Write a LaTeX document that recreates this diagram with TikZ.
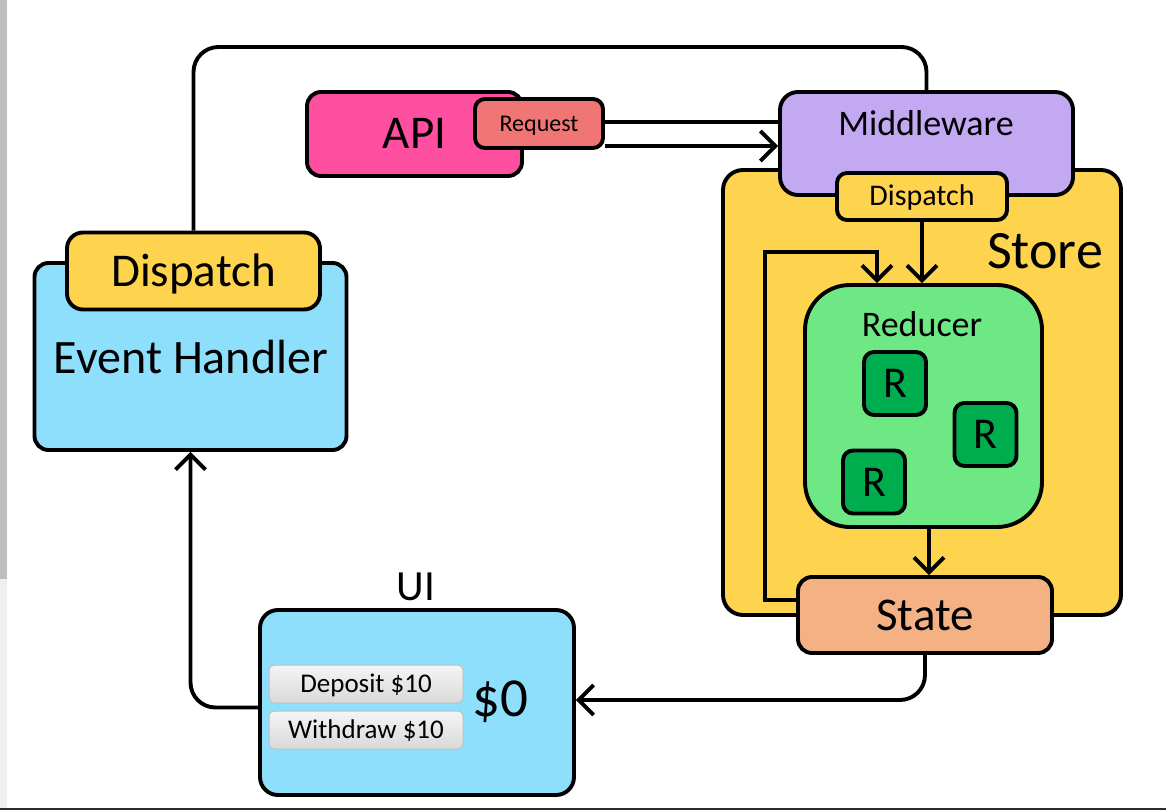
\documentclass[tikz,border=0pt]{standalone}
\usepackage{fontspec}
\setmainfont{Carlito}
\usetikzlibrary{shapes,arrows.meta}
\definecolor{handlerblue}{RGB}{142,223,252}
\definecolor{dispyellow}{RGB}{254,211,77}
\definecolor{apipink}{RGB}{255,79,160}
\definecolor{reqred}{RGB}{240,118,118}
\definecolor{mwpurple}{RGB}{195,169,242}
\definecolor{redgreen}{RGB}{110,232,132}
\definecolor{rgreen}{RGB}{0,173,78}
\definecolor{statepeach}{RGB}{244,177,131}
\definecolor{scrollgrey}{RGB}{239,239,239}
\definecolor{thumbgrey}{RGB}{190,190,190}
\definecolor{taskbar}{RGB}{42,46,36}
\newcommand{\fs}[1]{\fontsize{#1}{#1}\selectfont}
\newcommand{\rnode}[2]{
  \node[block=rgreen, rounded corners=10pt, minimum width=62pt,
        minimum height=63pt, font=\fs{44pt}, text height=28pt] (#1) at (#2) {R};
}
\tikzset{
  block/.style={draw, line width=3.9pt, rounded corners=14pt, fill=#1,
                inner sep=0pt, text depth=0pt},
  lbl/.style={font=\fs{#1}, inner sep=0pt, anchor=base},
  button/.style={draw=black!25, line width=1pt, rounded corners=5pt,
                 top color=black!4, bottom color=black!15, inner sep=0pt,
                 minimum width=194pt, font=\fs{27pt}, text height=17pt, text depth=0pt},
  wire/.style={line width=3.9pt},
  flow/.style={wire, -{Straight Barb[length=15pt,width=30pt]}}
}

\begin{document}
\begin{tikzpicture}[x=1pt,y=-1pt]
	\useasboundingbox (0,0) rectangle (1166,810);
	\fill[white] (0,0) rectangle (1166,810);
	\fill[scrollgrey] (0,0) rectangle (7,808);
	\fill[thumbgrey] (0,0) rectangle (7,579);
	\fill[taskbar] (0,808) rectangle (1166,810);
	% store side
	\node[block=dispyellow, rounded corners=20pt, minimum width=398pt,
	      minimum height=445pt] (store) at (922,392.5) {};
	\node[lbl=54pt] (storetxt) at (1045,269) {Store};
	\node[block=mwpurple, rounded corners=18pt, minimum width=293pt,
	      minimum height=103pt] (mw) at (926.5,143.5) {};
	\node[lbl=36pt] (mwtxt) at (926,136) {Middleware};
	\node[block=dispyellow, rounded corners=10pt, minimum width=170pt,
	      minimum height=47pt, font=\fs{30pt}, text height=19pt] (mwdisp) at (922,196.5) {Dispatch};
	\node[block=redgreen, rounded corners=45pt, minimum width=237pt,
	      minimum height=242pt] (reducer) at (923.5,406) {};
	\node[lbl=36pt] (reducertxt) at (922,336) {Reducer};
	\rnode{rone}{895,383.5}
	\rnode{rtwo}{985.5,434.5}
	\rnode{rthree}{874,482}
	\node[block=statepeach, minimum width=254pt, minimum height=76pt,
	      font=\fs{47pt}, text height=30pt] (state) at (925,615) {State};
	% api
	\node[block=apipink, minimum width=215pt, minimum height=84pt,
	      font=\fs{47pt}, text height=29pt] (api) at (414.5,134) {API};
	\node[block=reqred, rounded corners=10pt, minimum width=128pt,
	      minimum height=49pt, font=\fs{24pt}, text height=16pt] (req) at (539,123.5) {Request};
	% event handler
	\node[block=handlerblue, minimum width=312pt, minimum height=187pt] (eh) at (190.5,356.5) {};
	\node[lbl=48pt] (ehtxt) at (191,373) {Event Handler};
	\node[block=dispyellow, rounded corners=16pt, minimum width=253pt,
	      minimum height=77pt, font=\fs{47pt}, text height=31pt] (ehdisp) at (193.5,271) {Dispatch};
	% ui
	\node[block=handlerblue, rounded corners=18pt, minimum width=314pt,
	      minimum height=185pt] (ui) at (417,702.5) {};
	\node[lbl=43pt] (uitxt) at (416,600) {UI};
	\node[button, minimum height=38pt] (deposit) at (366,684) {Deposit \$10};
	\node[button, minimum height=38pt] (withdraw) at (366,730) {Withdraw \$10};
	\node[lbl=55pt] (balance) at (500,716) {\$0};
	% connectors
	\coordinate (topbend) at (560,47);
	\coordinate (loopleft) at (765,252);
	\draw[wire, rounded corners=25pt] (ehdisp.north) |- (topbend) -| (mw.north);
	\draw[wire] ([yshift=1.5pt]req.east) -- ([yshift=1.5pt]req.east -| mw.west);
	\draw[flow] ([yshift=-22.5pt]req.east) -- ([yshift=-22.5pt]req.east -| mw.west);
	\draw[flow] (mwdisp.south) -- (mwdisp.south |- reducer.north);
	\draw[flow] ([yshift=15pt]state.west) -| (loopleft) -| ([xshift=-46.5pt]reducer.north);
	\draw[flow] ([xshift=5.5pt]reducer.south) -- ([xshift=5.5pt]reducer.south |- state.north);
	\draw[flow, rounded corners=25pt] (state.south) |- ([yshift=2.5pt]ui.east);
	\draw[flow, rounded corners=25pt] ([yshift=-5pt]ui.west) -| (eh.south);
\end{tikzpicture}
\end{document}
